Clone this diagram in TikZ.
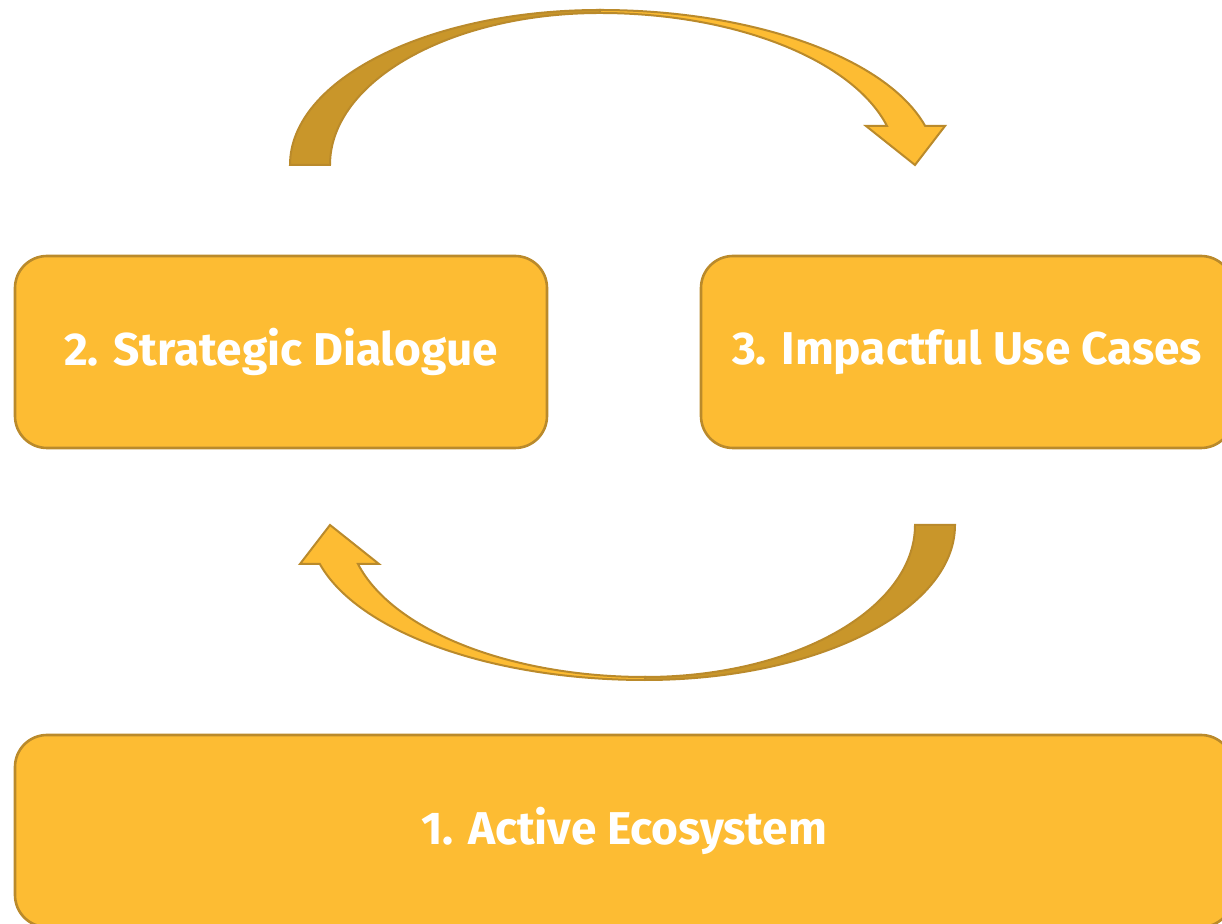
\documentclass[tikz,border=0pt]{standalone}
\usepackage{fontspec}
\setmainfont{Fira Sans}
\definecolor{boxfill}{HTML}{FDBC33}
\definecolor{boxline}{HTML}{BA8A2B}
\definecolor{arrowdark}{HTML}{C9962A}
\tikzset{
  stagebox/.style={draw=boxline, fill=boxfill, line width=2.6pt, rounded corners=32pt,
    inner sep=0pt, text=white, font=\fontsize{46}{52}\selectfont\bfseries},
  bandlight/.style={draw=boxline, fill=boxfill, line width=2pt, line join=miter},
  banddark/.style={draw=boxline, fill=arrowdark, line width=2pt, line join=miter}
}
\begin{document}
\begin{tikzpicture}[x=1pt,y=1pt]
\useasboundingbox (0,0) rectangle (1222,923);
% boxes
\node[stagebox, minimum width=532pt, minimum height=192pt] (dialogue) at (281,571) {2. Strategic Dialogue};
\node[stagebox, minimum width=532pt, minimum height=192pt] (usecases) at (967,571) {3. Impactful Use Cases};
\node[stagebox, minimum width=1218pt, minimum height=192pt] (ecosystem) at (624,92) {1. Active Ecosystem};
% top curved arrow
\begin{scope}
  \path[banddark] (290,758) arc[start angle=180, end angle=90, x radius=310, y radius=155]
     -- (600,910) arc[start angle=90, end angle=180, x radius=270, y radius=152] -- cycle;
  \path[bandlight] (600,913) arc[start angle=90, end angle=14.57, x radius=336, y radius=155]
     -- (945,797) -- (915,758) -- (866,797) -- (887,797)
     arc[start angle=14.87, end angle=90, x radius=297, y radius=152] -- cycle;
\end{scope}
% bottom curved arrow (same shape turned half round)
\begin{scope}[rotate around={180:(622.5,578)}]
  \path[banddark] (290,758) arc[start angle=180, end angle=90, x radius=310, y radius=155]
     -- (600,910) arc[start angle=90, end angle=180, x radius=270, y radius=152] -- cycle;
  \path[bandlight] (600,913) arc[start angle=90, end angle=14.57, x radius=336, y radius=155]
     -- (945,797) -- (915,758) -- (866,797) -- (887,797)
     arc[start angle=14.87, end angle=90, x radius=297, y radius=152] -- cycle;
\end{scope}
\end{tikzpicture}
\end{document}
